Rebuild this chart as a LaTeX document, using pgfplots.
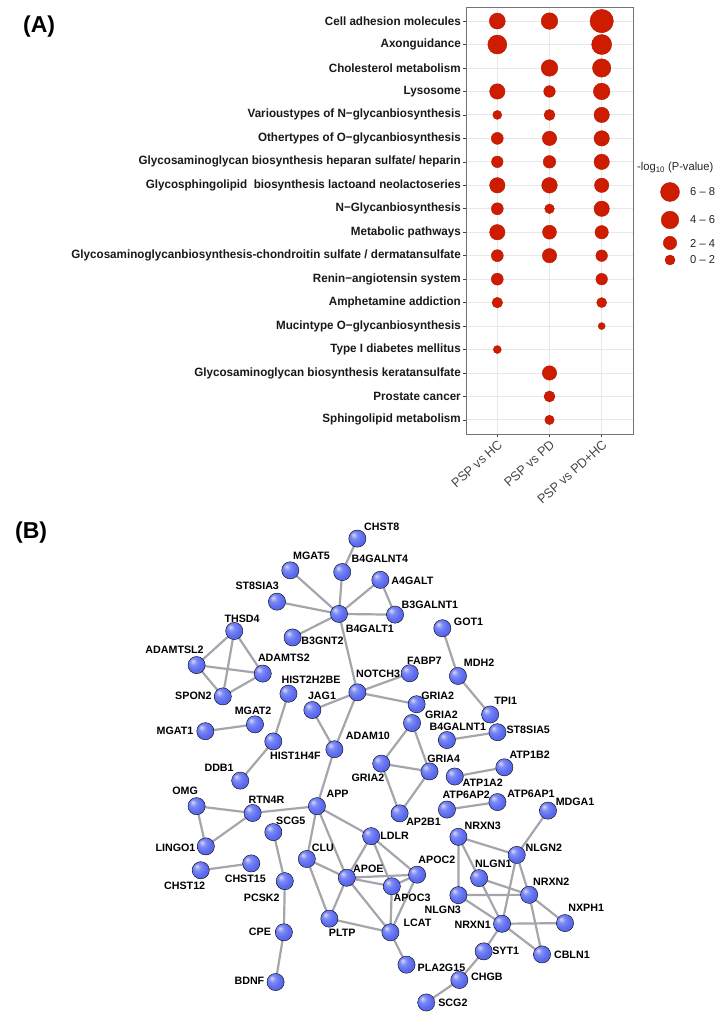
\documentclass[border=0pt]{standalone}
\usepackage{pgfplots}
\pgfplotsset{compat=1.18}
\usepackage{pgfplotstable}
\usepackage{fontspec}
\setmainfont{Liberation Sans}
\newfontfamily\pAfont{Liberation Sans}[FakeStretch=0.97]
\definecolor{bub}{RGB}{205,28,0}
\definecolor{bubdraw}{RGB}{180,22,0}
\definecolor{edgegray}{RGB}{165,165,174}
\definecolor{nodeblue}{RGB}{92,108,242}
% lighter sphere shading for the network nodes
\makeatletter
\pgfdeclareradialshading[tikz@ball]{ball}{\pgfqpoint{-12bp}{12bp}}{%
  color(0bp)=(tikz@ball!25!white);
  color(10bp)=(tikz@ball!80!white);
  color(22bp)=(tikz@ball);
  color(40bp)=(tikz@ball!85!black);
  color(50bp)=(tikz@ball!60!black)}
\makeatother

% bubble plot: column (0 = PSP vs HC, 1 = PSP vs PD, 2 = PSP vs PD+HC), row, radius (px)
\pgfplotstableread{
x y r
0 18 8.0
1 18 8.3
2 18 11.7
0 17 9.5
2 17 10.0
1 16 8.3
2 16 9.2
0 15 7.7
1 15 5.8
2 15 8.3
0 14 4.5
1 14 5.5
2 14 7.7
0 13 6.0
1 13 7.2
2 13 7.7
0 12 5.8
1 12 6.3
2 12 7.7
0 11 7.7
1 11 7.8
2 11 7.2
0 10 6.0
1 10 4.8
2 10 7.7
0 9 7.7
1 9 7.0
2 9 6.7
0 8 6.0
1 8 7.2
2 8 5.8
0 7 6.0
2 7 5.8
0 6 5.3
2 6 5.0
2 5 3.5
0 4 4.0
1 3 7.2
1 2 5.5
1 1 4.7
}\bubbles

% legend keys (pixel frame)
\pgfplotstableread{
x y r
670 192 9.5
670 220 8.8
670 243 6.7
670 260 5.0
}\legkeys

% network nodes: name, node position, label position (layout frame)
\pgfplotstableread{
name x y lx ly
CHST8 778 172 831 137
MGAT5 632 265 678 222
B4GALNT4 745 270 827 232
A4GALT 828 293 898 297
ST8SIA3 603 357 560 311
B4GALT1 738 393 805 437
B3GALNT1 860 395 936 367
B3GNT2 637 462 702 473
GOT1 963 435 1020 415
THSD4 510 443 527 406
ADAMTSL2 428 543 380 498
ADAMTS2 572 568 618 523
SPON2 485 635 421 632
FABP7 892 567 924 530
MDH2 997 575 1043 537
NOTCH3 778 623 823 570
HIST2H2BE 628 627 677 585
JAG1 680 675 701 632
GRIA2 907 658 953 632
TPI1 1067 688 1101 648
GRIA2 897 713 961 690
MGAT2 555 717 551 677
MGAT1 447 737 381 737
B4GALNT1 973 763 997 725
ST8SIA5 1083 740 1150 733
HIST1H4F 595 767 643 810
ADAM10 728 790 801 750
DDB1 523 882 477 843
GRIA2 830 832 801 873
GRIA4 935 855 966 817
ATP1B2 1098 843 1153 805
ATP1A2 990 870 1051 887
OMG 428 957 403 912
RTN4R 550 977 580 937
APP 690 957 735 920
ATP6AP2 973 967 1015 925
ATP6AP1 1083 945 1156 920
MDGA1 1193 970 1252 945
AP2B1 870 978 922 1003
SCG5 595 1033 633 1000
NRXN3 998 1047 1051 1015
LDLR 808 1045 859 1043
LINGO1 448 1075 382 1078
NLGN2 1125 1100 1184 1078
CLU 668 1112 703 1078
CHST12 437 1145 402 1192
CHST15 547 1125 534 1170
APOC2 908 1158 951 1113
NLGN1 1043 1168 1074 1125
APOE 755 1167 802 1140
PCSK2 620 1177 570 1225
APOC3 853 1192 897 1225
NRXN2 1152 1217 1200 1178
NLGN3 998 1218 964 1260
NXPH1 1230 1300 1276 1255
NRXN1 1093 1302 1029 1305
LCAT 850 1327 909 1300
PLTP 717 1287 745 1328
CPE 618 1327 566 1325
SYT1 1053 1383 1101 1380
CBLN1 1180 1392 1245 1392
PLA2G15 885 1422 961 1430
CHGB 1000 1467 1060 1458
BDNF 600 1473 543 1470
SCG2 928 1533 986 1533
}\netnodes

\begin{document}
\begin{tikzpicture}
\path[use as bounding box] (0,0) rectangle (719pt,1015pt);

% ---------------- Panel A ----------------
\begin{axis}[
  at={(466pt,581pt)}, anchor=south west,
  width=167pt, height=427pt, scale only axis,
  xmin=-0.6, xmax=2.6, ymin=0.4, ymax=18.6,
  xtick={0,1,2},
  xticklabels={PSP vs HC,PSP vs PD,PSP vs PD+HC},
  ytick={1,...,18},
  yticklabels={Sphingolipid metabolism,Prostate cancer,Glycosaminoglycan biosynthesis keratansulfate,Type I diabetes mellitus,Mucintype O−glycanbiosynthesis,Amphetamine addiction,Renin−angiotensin system,Glycosaminoglycanbiosynthesis-chondroitin sulfate / dermatansulfate,Metabolic pathways,N−Glycanbiosynthesis,Glycosphingolipid\ \ biosynthesis lactoand neolactoseries,Glycosaminoglycan biosynthesis heparan sulfate/ heparin,Othertypes of O−glycanbiosynthesis,Varioustypes of N−glycanbiosynthesis,Lysosome,Cholesterol metabolism,Axonguidance,Cell adhesion molecules},
  tick pos=left, tick align=outside, major tick length=3pt,
  tick style={color=black!75, line width=0.6pt},
  grid=major, major grid style={color=black!9, line width=0.9pt},
  axis line style={color=black!55, line width=0.7pt},
  yticklabel style={font=\pAfont\bfseries\fontsize{12}{14}\selectfont, text=black!90, inner sep=2pt},
  xticklabel style={font=\pAfont\fontsize{13}{15}\selectfont, text=black!72, rotate=42, anchor=north east, inner sep=1.5pt},
]
\addplot[scatter, only marks, mark=*,
  scatter/use mapped color={draw=bubdraw, fill=bub},
  mark options={line width=0.4pt},
  visualization depends on={\thisrow{r} \as \rr},
  scatter/@pre marker code/.append style={/tikz/mark size=\rr pt}]
  table[x=x, y=y] {\bubbles};
\end{axis}

% legend of panel A (pixel frame)
\begin{axis}[
  at={(0pt,0pt)}, anchor=south west,
  width=719pt, height=1015pt, scale only axis,
  xmin=0, xmax=719, ymin=0, ymax=1015, y dir=reverse,
  hide axis, clip=false]
\addplot[scatter, only marks, mark=*,
  scatter/use mapped color={draw=bubdraw, fill=bub},
  mark options={line width=0.4pt},
  visualization depends on={\thisrow{r} \as \rr},
  scatter/@pre marker code/.append style={/tikz/mark size=\rr pt}]
  table[x=x, y=y] {\legkeys};
\node[anchor=west, font=\pAfont\fontsize{11.5}{13}\selectfont, text=black!85, inner sep=0pt] at (axis cs:637,168) {-log\textsubscript{10} (P-value)};
\node[anchor=west, font=\pAfont\fontsize{11.5}{13}\selectfont, text=black!85, inner sep=0pt] at (axis cs:690,192) {6 \textendash\ 8};
\node[anchor=west, font=\pAfont\fontsize{11.5}{13}\selectfont, text=black!85, inner sep=0pt] at (axis cs:690,220) {4 \textendash\ 6};
\node[anchor=west, font=\pAfont\fontsize{11.5}{13}\selectfont, text=black!85, inner sep=0pt] at (axis cs:690,243) {2 \textendash\ 4};
\node[anchor=west, font=\pAfont\fontsize{11.5}{13}\selectfont, text=black!85, inner sep=0pt] at (axis cs:690,260) {0 \textendash\ 2};
\end{axis}

% ---------------- Panel B ----------------
\begin{axis}[
  at={(0pt,0pt)}, anchor=south west,
  width=719pt, height=535pt, scale only axis,
  xmin=0, xmax=1565.3, ymin=0, ymax=1569.7, y dir=reverse,
  hide axis, clip=false]
\addplot[no marks, line width=2.2pt, color=edgegray, unbounded coords=jump] coordinates {
(778,172) (745,270) (nan,nan)
(745,270) (738,393) (nan,nan)
(632,265) (738,393) (nan,nan)
(603,357) (738,393) (nan,nan)
(828,293) (738,393) (nan,nan)
(828,293) (860,395) (nan,nan)
(860,395) (738,393) (nan,nan)
(637,462) (738,393) (nan,nan)
(738,393) (778,623) (nan,nan)
(510,443) (428,543) (nan,nan)
(510,443) (572,568) (nan,nan)
(510,443) (485,635) (nan,nan)
(428,543) (572,568) (nan,nan)
(428,543) (485,635) (nan,nan)
(485,635) (572,568) (nan,nan)
(963,435) (997,575) (nan,nan)
(997,575) (1067,688) (nan,nan)
(778,623) (892,567) (nan,nan)
(778,623) (680,675) (nan,nan)
(778,623) (907,658) (nan,nan)
(778,623) (728,790) (nan,nan)
(680,675) (728,790) (nan,nan)
(728,790) (690,957) (nan,nan)
(628,627) (595,767) (nan,nan)
(595,767) (523,882) (nan,nan)
(447,737) (555,717) (nan,nan)
(897,713) (830,832) (nan,nan)
(897,713) (935,855) (nan,nan)
(830,832) (935,855) (nan,nan)
(830,832) (870,978) (nan,nan)
(935,855) (870,978) (nan,nan)
(990,870) (1098,843) (nan,nan)
(973,967) (1083,945) (nan,nan)
(973,763) (1083,740) (nan,nan)
(428,957) (550,977) (nan,nan)
(428,957) (448,1075) (nan,nan)
(448,1075) (550,977) (nan,nan)
(550,977) (690,957) (nan,nan)
(690,957) (668,1112) (nan,nan)
(690,957) (755,1167) (nan,nan)
(690,957) (808,1045) (nan,nan)
(437,1145) (547,1125) (nan,nan)
(595,1033) (620,1177) (nan,nan)
(620,1177) (618,1327) (nan,nan)
(618,1327) (600,1473) (nan,nan)
(668,1112) (755,1167) (nan,nan)
(668,1112) (717,1287) (nan,nan)
(755,1167) (717,1287) (nan,nan)
(755,1167) (908,1158) (nan,nan)
(755,1167) (853,1192) (nan,nan)
(755,1167) (850,1327) (nan,nan)
(808,1045) (755,1167) (nan,nan)
(808,1045) (853,1192) (nan,nan)
(808,1045) (908,1158) (nan,nan)
(908,1158) (853,1192) (nan,nan)
(908,1158) (850,1327) (nan,nan)
(853,1192) (850,1327) (nan,nan)
(717,1287) (850,1327) (nan,nan)
(850,1327) (885,1422) (nan,nan)
(998,1047) (1125,1100) (nan,nan)
(998,1047) (998,1218) (nan,nan)
(998,1047) (1043,1168) (nan,nan)
(1043,1168) (1093,1302) (nan,nan)
(1043,1168) (1152,1217) (nan,nan)
(998,1218) (1152,1217) (nan,nan)
(998,1218) (1093,1302) (nan,nan)
(1125,1100) (1193,970) (nan,nan)
(1125,1100) (1093,1302) (nan,nan)
(1125,1100) (1152,1217) (nan,nan)
(1152,1217) (1230,1300) (nan,nan)
(1152,1217) (1180,1392) (nan,nan)
(1093,1302) (1230,1300) (nan,nan)
(1093,1302) (1180,1392) (nan,nan)
(1093,1302) (1053,1383) (nan,nan)
(1053,1383) (1000,1467) (nan,nan)
(1000,1467) (928,1533)
};
\addplot[only marks, mark=none, point meta=explicit symbolic,
  nodes near coords, nodes near coords align={center},
  every node near coord/.append style={font=\bfseries\fontsize{10.7}{12}\selectfont, text=black, anchor=center, inner sep=0pt}]
  table[x=lx, y=ly, meta=name] {\netnodes};
\addplot[only marks, mark=ball, mark size=8.6pt, mark options={ball color=nodeblue}]
  table[x=x, y=y] {\netnodes};
\end{axis}

\node[anchor=base west, font=\bfseries\fontsize{23}{27}\selectfont, inner sep=0pt] at (23pt,982pt) {(A)};
\node[anchor=base west, font=\bfseries\fontsize{23}{27}\selectfont, inner sep=0pt] at (15pt,476pt) {(B)};
\end{tikzpicture}
\end{document}
